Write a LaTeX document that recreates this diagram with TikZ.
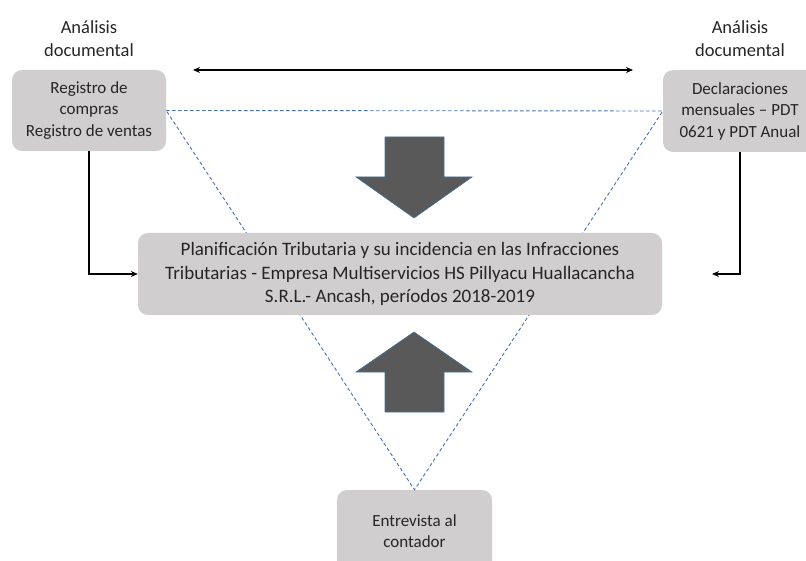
\documentclass[tikz,border=0pt]{standalone}
\usepackage{fontspec}
\setmainfont{Carlito}
\usetikzlibrary{arrows.meta}
\definecolor{boxgray}{HTML}{D0CECE}
\definecolor{arrgray}{HTML}{595959}
\definecolor{arredge}{HTML}{41719C}
\definecolor{dashblue}{HTML}{4A70B5}
\definecolor{txt}{HTML}{262626}
\begin{document}
\begin{tikzpicture}[x=1pt,y=-1pt,
  gbox/.style={fill=boxgray, rounded corners=10pt, align=center, inner sep=0pt, text=txt},
  smallbox/.style={gbox, font=\fontsize{17}{21.5}\selectfont},
  bigbox/.style={gbox, font=\fontsize{19}{23.5}\selectfont},
  lbl/.style={align=center, font=\fontsize{18.5}{23}\selectfont, text=txt},
  conn/.style={line width=1.4pt, -{Stealth[length=7pt,width=6pt]}},
  dashline/.style={dashblue, dashed, dash pattern=on 3.5pt off 2.5pt, line width=0.9pt},
  bigarrow/.style={fill=arrgray, draw=arredge, line width=0.6pt}]
\useasboundingbox (0,0) rectangle (806,561);

% corner nodes (placed first, coordinates for triangle)
\node[smallbox, minimum width=154pt, minimum height=81pt] (L) at (89,110.5)
  {Registro de\\compras\\Registro de ventas};
\node[smallbox, minimum width=154pt, minimum height=82pt] (R) at (740,111)
  {Declaraciones\\mensuales -- PDT\\0621 y PDT Anual};
\node[smallbox, minimum width=155pt, minimum height=82pt] (B) at (414.5,531)
  {Entrevista al\\contador};

% dashed triangle (behind the central box)
\draw[dashline] (L.east) -- (R.west) -- (B.north) -- cycle;

\node[bigbox, minimum width=524pt, minimum height=82pt] (C) at (400,274)
  {Planificación Tributaria y su incidencia en las Infracciones\\
   Tributarias - Empresa Multiservicios HS Pillyacu Huallacancha\\
   S.R.L.- Ancash, períodos 2018-2019};

\node[lbl] (LL) at (89,39) {Análisis\\documental};
\node[lbl] (RL) at (740,39) {Análisis\\documental};

% double arrow
\coordinate (DA) at (193,70);
\coordinate (DB) at (633,70);
\draw[line width=1.4pt, {Stealth[length=7pt,width=6pt]}-{Stealth[length=7pt,width=6pt]}] (DA) -- (DB);

% elbow connectors
\draw[conn] (L.south) |- (C.west);
\coordinate (RT) at (712,274);
\draw[conn] (R.south) |- (RT);

% thick arrows
\draw[bigarrow] (385,137) -- (444,137) -- (444,177) -- (472,177) -- (414,218)
  -- (356,177) -- (385,177) -- cycle;
\draw[bigarrow] (385,412) -- (444,412) -- (444,372) -- (472,372) -- (414,332)
  -- (356,372) -- (385,372) -- cycle;
\end{tikzpicture}
\end{document}
